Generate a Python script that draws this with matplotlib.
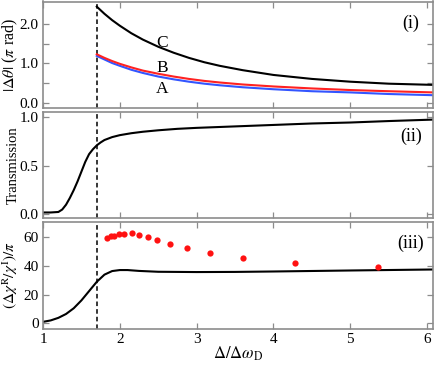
import matplotlib
matplotlib.use("Agg")
import matplotlib.pyplot as plt

# ---- data ----
x_phase = [1.70, 1.80, 1.90, 2.00, 2.15, 2.30, 2.50, 2.70, 2.90, 3.10, 3.30, 3.60, 4.00, 4.50, 5.00, 5.50, 6.08]
phase_C = [2.43, 2.25, 2.09, 1.95, 1.76, 1.60, 1.42, 1.27, 1.14, 1.03, 0.94, 0.83, 0.71, 0.61, 0.54, 0.49, 0.46]
phase_B = [1.23, 1.14, 1.06, 0.99, 0.90, 0.82, 0.74, 0.67, 0.61, 0.56, 0.52, 0.47, 0.42, 0.37, 0.33, 0.30, 0.27]
phase_A = [1.19, 1.10, 1.01, 0.94, 0.84, 0.76, 0.67, 0.60, 0.54, 0.49, 0.45, 0.40, 0.35, 0.30, 0.27, 0.23, 0.20]

x_trans = [1.00, 1.10, 1.20, 1.25, 1.30, 1.35, 1.40, 1.45, 1.50, 1.55, 1.60, 1.65, 1.70, 1.75, 1.80,
           1.90, 2.00, 2.15, 2.30, 2.50, 2.75, 3.00, 3.50, 4.00, 4.50, 5.00, 5.50, 6.08]
trans = [0.02, 0.02, 0.025, 0.05, 0.10, 0.17, 0.25, 0.34, 0.44, 0.54, 0.62, 0.67, 0.71, 0.74, 0.765,
         0.795, 0.815, 0.835, 0.85, 0.865, 0.88, 0.89, 0.905, 0.92, 0.935, 0.945, 0.96, 0.975]

x_chi = [1.00, 1.10, 1.20, 1.30, 1.40, 1.50, 1.60, 1.70, 1.80, 1.90, 2.00, 2.10, 2.25, 2.50, 3.00, 3.50, 4.00, 5.00, 6.08]
chi = [1.0, 2.0, 3.8, 6.5, 10.5, 16.0, 22.5, 29.0, 34.0, 36.5, 37.2, 37.2, 36.6, 36.0, 35.8, 35.9, 36.2, 36.9, 37.6]

x_dots = [1.83, 1.887, 1.926, 1.995, 2.06, 2.156, 2.248, 2.365, 2.49, 2.656, 2.873, 3.177, 3.60, 4.285, 5.36]
dots = [59.3, 61.1, 60.7, 62.5, 62.3, 63.2, 61.6, 60.2, 57.9, 55.3, 52.3, 49.1, 45.4, 41.9, 39.1]

x_cut = 1.70
xticks = [1, 2, 3, 4, 5, 6]

plt.rcParams['font.family'] = ['Liberation Serif', 'DejaVu Serif']
plt.rcParams['mathtext.fontset'] = 'stix'
plt.rcParams['font.size'] = 12

W, H = 436, 366
fig = plt.figure(figsize=(W / 100, H / 100), dpi=100)

def box(top, bottom, left=43, right=433.3):
    return [left / W, 1 - bottom / H, (right - left) / W, (bottom - top) / H]

ax1 = fig.add_axes(box(1.5, 108.3))
ax2 = fig.add_axes(box(112.3, 218.3))
ax3 = fig.add_axes(box(221.7, 329.0))

gray = '#8c8c8c'
for ax in (ax1, ax2, ax3):
    ax.set_xlim(1, 6.08)
    ax.set_xticks(xticks)
    for s in ax.spines.values():
        s.set_color(gray)
        s.set_linewidth(1.2)
    ax.tick_params(direction='in', top=True, right=True, color=gray, width=0.9, length=4,
                   labelsize=11, pad=3)
    ax.axvline(x_cut, color='black', ls=(0, (3, 2)), lw=1.1, zorder=1)

# panel (i)
ax1.plot(x_phase, phase_A, color='#3355ff', lw=1.5)
ax1.plot(x_phase, phase_B, color='#ff2222', lw=1.5)
ax1.plot(x_phase, phase_C, color='black', lw=1.5)
ax1.set_ylim(-0.13, 2.56)
ax1.set_yticks([0, 0.5, 1.0, 1.5, 2.0])
ax1.set_yticklabels(['0.0', '', '1.0', '', '2.0'])
ax1.set_xticklabels([])
ax1.text(2.55, 1.51, 'C', ha='center', va='center', fontsize=12.5)
ax1.text(2.55, 0.88, 'B', ha='center', va='center', fontsize=12.5)
ax1.text(2.55, 0.35, 'A', ha='center', va='center', fontsize=12.5)
ax1.text(5.79, 2.0, '(i)', ha='center', va='center', fontsize=13)
ax1.set_ylabel(r'$|\Delta\theta|$ ($\pi$ rad)', fontsize=11.5)
ax1.yaxis.set_label_coords(-0.06, 0.5)

# panel (ii)
ax2.plot(x_trans, trans, color='black', lw=1.5)
ax2.set_ylim(-0.04, 1.05)
ax2.set_yticks([0, 0.5, 1.0])
ax2.set_yticklabels(['0.0', '0.5', '1.0'])
ax2.set_xticklabels([])
ax2.text(5.79, 0.80, '(ii)', ha='center', va='center', fontsize=13)
ax2.set_ylabel('Transmission', fontsize=10.5)
ax2.yaxis.set_label_coords(-0.06, 0.5)

# panel (iii)
ax3.plot(x_chi, chi, color='black', lw=1.5)
ax3.plot(x_dots, dots, 'o', color='#ff1111', ms=4.5, mec='none')
ax3.set_ylim(-4, 71)
ax3.set_yticks([0, 20, 40, 60])
ax3.set_xticklabels([str(t) for t in xticks])
ax3.text(5.79, 55.8, '(iii)', ha='center', va='center', fontsize=13)
ax3.set_ylabel(r'$(\Delta\chi^{\rm R}/\chi^{\rm I})/\pi$', fontsize=11)
ax3.yaxis.set_label_coords(-0.06, 0.5)
ax3.set_xlabel(r'$\Delta/\Delta\omega_{\rm D}$', fontsize=12, labelpad=-1)

fig.savefig('out.png', dpi=100)
